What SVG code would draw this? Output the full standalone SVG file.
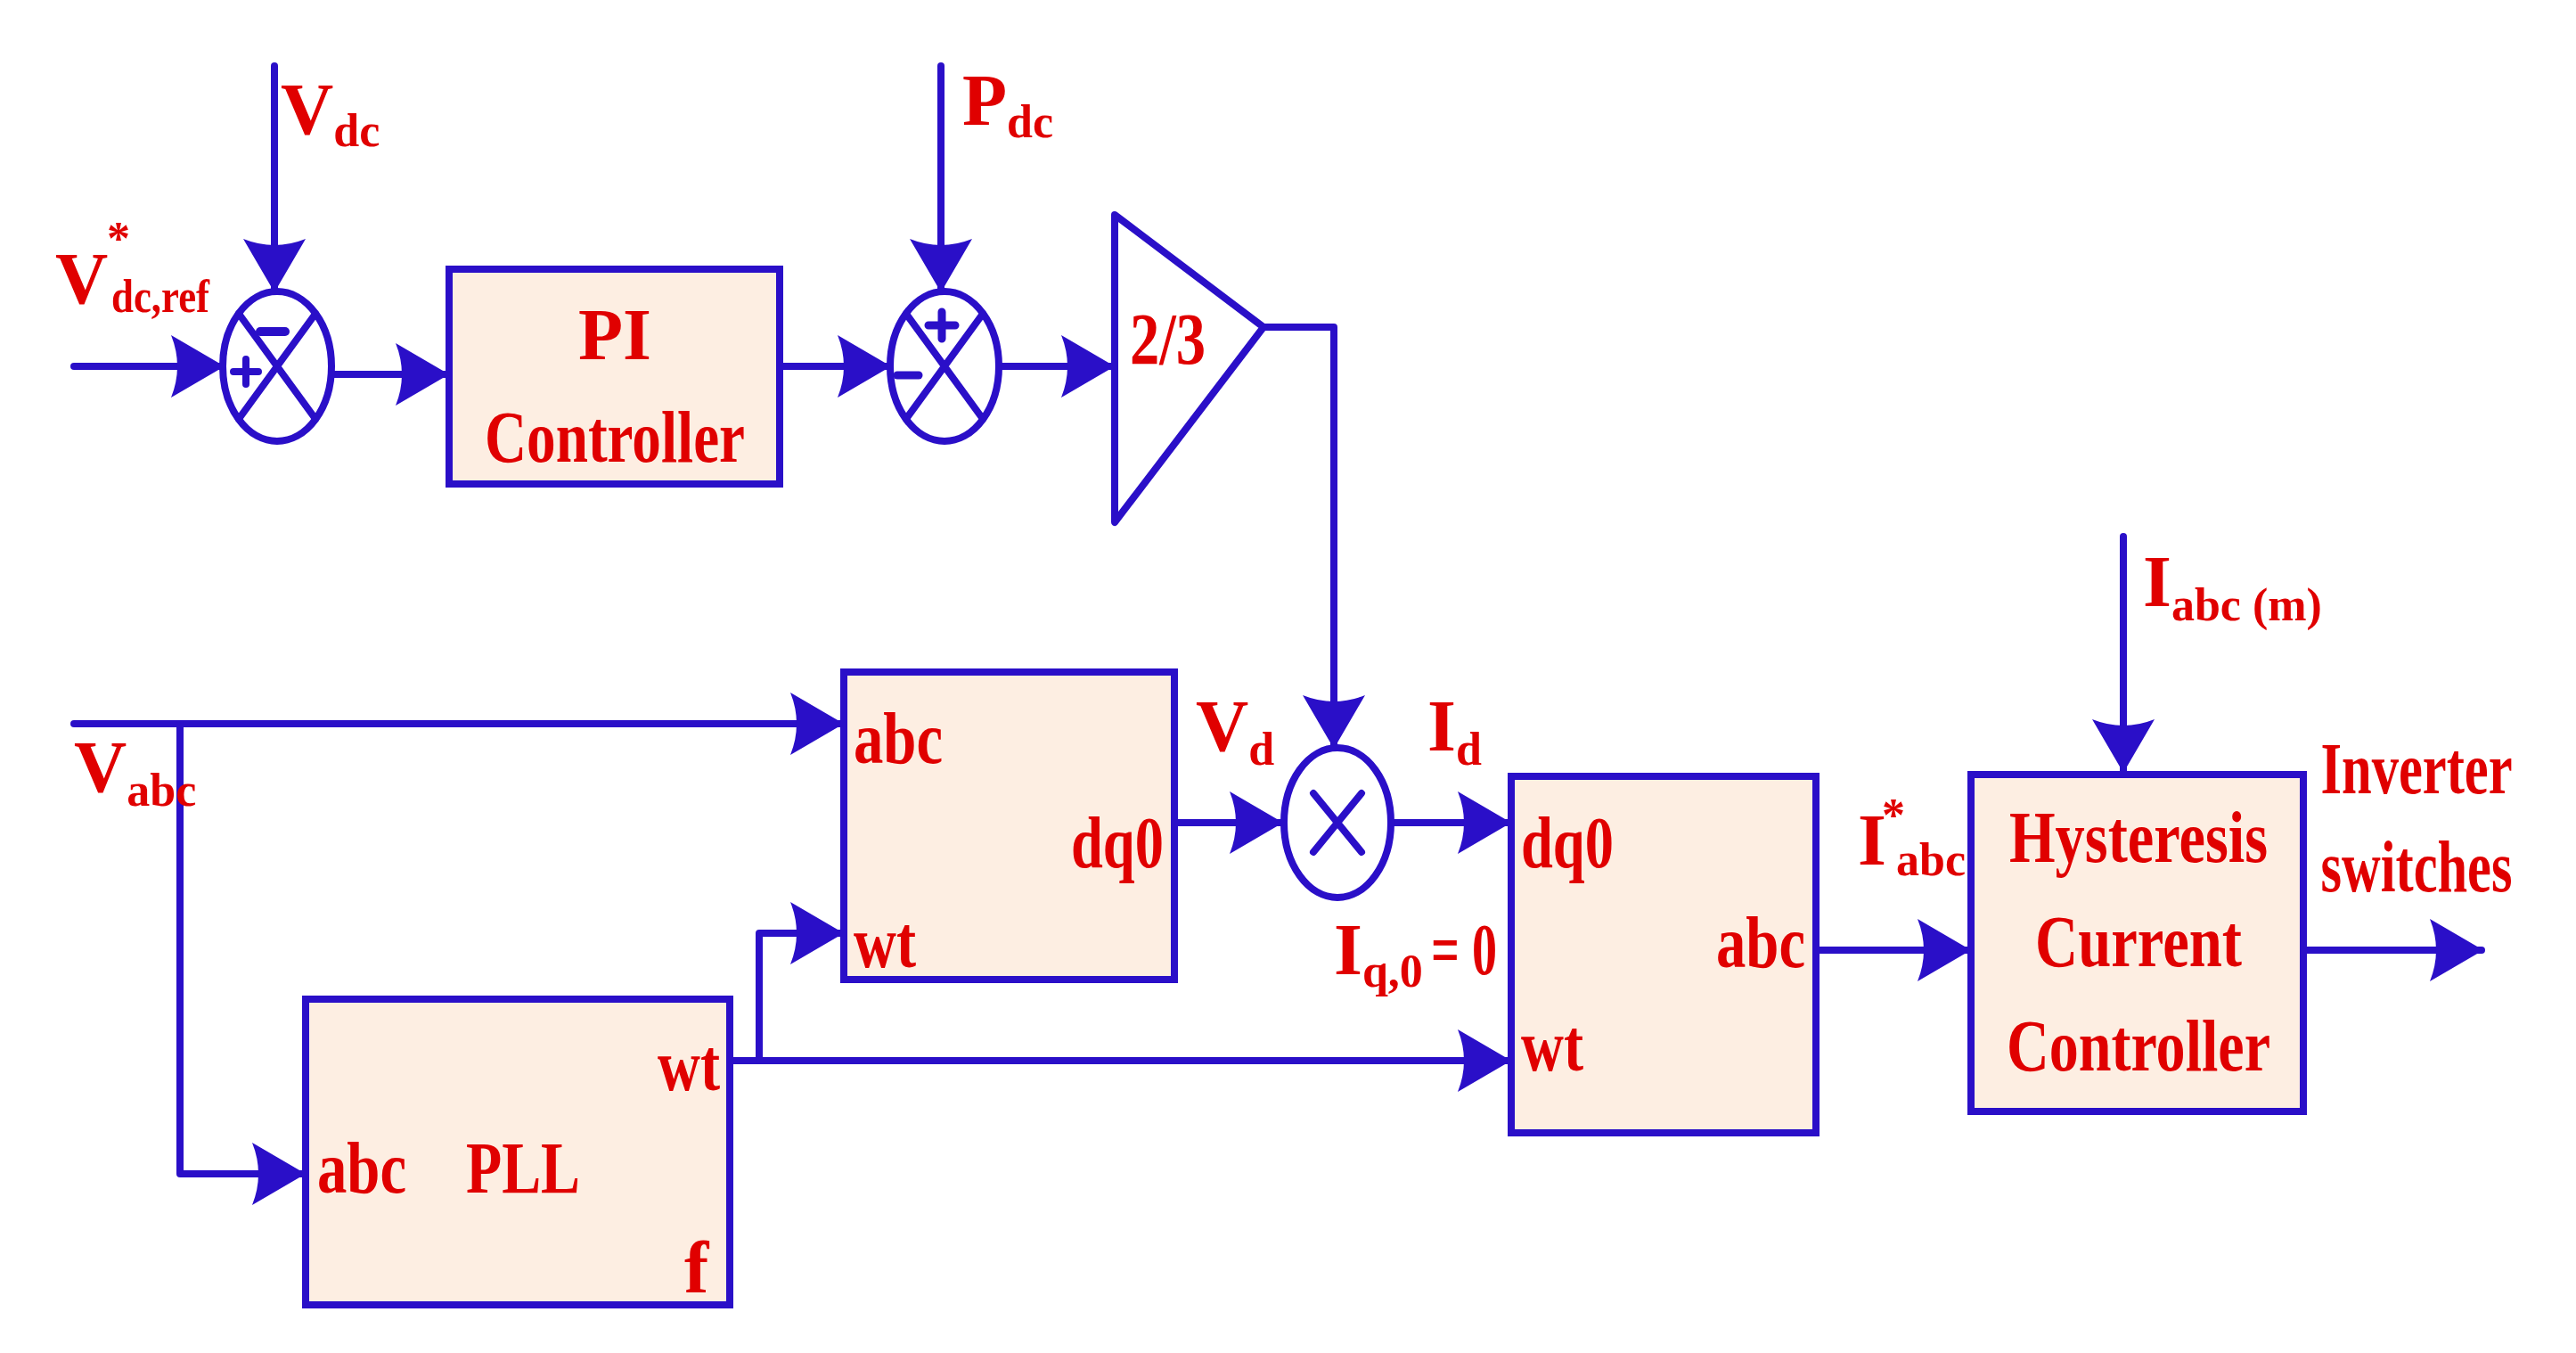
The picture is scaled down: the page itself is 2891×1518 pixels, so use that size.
<svg xmlns="http://www.w3.org/2000/svg" width="2891" height="1518" viewBox="0 0 2891 1518">
<style>
.w{stroke:#2a0fc8;stroke-width:8;fill:none;stroke-linecap:round;stroke-linejoin:round}
.b{stroke:#2a0fc8;stroke-width:8;fill:#fdeee2}
.t{font-family:"Liberation Serif",serif;font-weight:bold;fill:#e00000;font-size:82px}
.s{font-size:52px}
</style>
<defs>
<marker id="a" viewBox="0 0 60 70" refX="58" refY="35" markerWidth="60" markerHeight="70" markerUnits="userSpaceOnUse" orient="auto">
<path d="M0,0 L60,35 L0,70 Q14,35 0,0 z" fill="#2a0fc8"/>
</marker>
</defs>
<rect width="2891" height="1518" fill="#fff"/>
<g id="connectors" class="w">
<path d="M308,74 V326" marker-end="url(#a)"/>
<path d="M83,411 H250" marker-end="url(#a)"/>
<path d="M372,420 H502" marker-end="url(#a)"/>
<path d="M1056,74 V326" marker-end="url(#a)"/>
<path d="M875,411 H998" marker-end="url(#a)"/>
<path d="M1121,411 H1249" marker-end="url(#a)"/>
<path d="M1418,367 H1497 V838" marker-end="url(#a)"/>
<path d="M83,812 H945" marker-end="url(#a)"/>
<path d="M202,812 V1317 H341" marker-end="url(#a)"/>
<path d="M819,1190 H852 V1047 H945" marker-end="url(#a)"/>
<path d="M852,1190 H1694" marker-end="url(#a)"/>
<path d="M1318,923 H1438" marker-end="url(#a)"/>
<path d="M1562,923 H1694" marker-end="url(#a)"/>
<path d="M2038,1066 H2210" marker-end="url(#a)"/>
<path d="M2383,602 V865" marker-end="url(#a)"/>
<path d="M2585,1066 H2785" marker-end="url(#a)"/>
</g>
<g id="sum1" class="w">
<ellipse cx="311" cy="411" rx="61" ry="84"/>
<path d="M268,352 L354,470 M354,352 L268,470"/>
<path d="M292,372 H320" stroke-width="10"/>
<path d="M262,417 H290 M276,403 V431" stroke-width="8"/>
</g>
<g id="sum2" class="w">
<ellipse cx="1060" cy="411" rx="61" ry="84"/>
<path d="M1017,352 L1103,470 M1103,352 L1017,470"/>
<path d="M1042,365 H1072 M1057,350 V380" stroke-width="9"/>
<path d="M1007,421 H1031" stroke-width="9"/>
</g>
<g id="sum3" class="w">
<ellipse cx="1501" cy="923" rx="60" ry="84"/>
<path d="M1474,890 L1528,956 M1528,890 L1474,956"/>
</g>
<g id="pi">
<rect class="b" x="504" y="302" width="371" height="241"/>
<text class="t" x="690" y="403" text-anchor="middle">PI</text>
<text class="t" x="690" y="518" text-anchor="middle" textLength="292" lengthAdjust="spacingAndGlyphs">Controller</text>
</g>
<g id="gain">
<polygon class="w" points="1251,241 1418,367 1251,586"/>
<text class="t" x="1268" y="408" textLength="85" lengthAdjust="spacingAndGlyphs">2/3</text>
</g>
<g id="abcdq0">
<rect class="b" x="947" y="754" width="371" height="345"/>
<text class="t" x="958" y="856" textLength="100" lengthAdjust="spacingAndGlyphs">abc</text>
<text class="t" x="1306" y="973" text-anchor="end" textLength="104" lengthAdjust="spacingAndGlyphs">dq0</text>
<text class="t" x="958" y="1085" textLength="70" lengthAdjust="spacingAndGlyphs">wt</text>
</g>
<g id="pll">
<rect class="b" x="343" y="1121" width="476" height="343"/>
<text class="t" x="808" y="1223" text-anchor="end" textLength="70" lengthAdjust="spacingAndGlyphs">wt</text>
<text class="t" x="356" y="1338" textLength="100" lengthAdjust="spacingAndGlyphs">abc</text>
<text class="t" x="523" y="1338" textLength="128" lengthAdjust="spacingAndGlyphs">PLL</text>
<text class="t" x="768" y="1450">f</text>
</g>
<g id="dq0abc">
<rect class="b" x="1696" y="871" width="342" height="400"/>
<text class="t" x="1707" y="973" textLength="104" lengthAdjust="spacingAndGlyphs">dq0</text>
<text class="t" x="2026" y="1085" text-anchor="end" textLength="100" lengthAdjust="spacingAndGlyphs">abc</text>
<text class="t" x="1707" y="1201" textLength="70" lengthAdjust="spacingAndGlyphs">wt</text>
</g>
<g id="hcc">
<rect class="b" x="2212" y="869" width="373" height="378"/>
<text class="t" x="2400" y="967" text-anchor="middle" textLength="290" lengthAdjust="spacingAndGlyphs">Hysteresis</text>
<text class="t" x="2400" y="1084" text-anchor="middle" textLength="232" lengthAdjust="spacingAndGlyphs">Current</text>
<text class="t" x="2400" y="1201" text-anchor="middle" textLength="296" lengthAdjust="spacingAndGlyphs">Controller</text>
</g>
<g id="labels" class="t">
<text x="315" y="150">V<tspan class="s" dy="14">dc</tspan></text>
<text x="62" y="340">V</text><text x="120" y="285" class="s">*</text><text x="125" y="350" class="s" textLength="110" lengthAdjust="spacingAndGlyphs">dc,ref</text>
<text x="1080" y="140">P<tspan class="s" dy="14">dc</tspan></text>
<text x="1342" y="842">V<tspan class="s" dy="16">d</tspan></text>
<text x="83" y="888">V<tspan class="s" dy="16">abc</tspan></text>
<text x="1602" y="842">I<tspan class="s" dy="16">d</tspan></text>
<text x="1497" y="1093">I<tspan class="s" dy="14">q,0</tspan></text>
<text x="1606" y="1093" textLength="74" lengthAdjust="spacingAndGlyphs">= 0</text>
<text x="2085" y="970">I</text><text x="2112" y="932" class="s">*</text><text x="2128" y="982" class="s">abc</text>
<text x="2405" y="680">I<tspan class="s" dy="16">abc (m)</tspan></text>
<text x="2712" y="890" text-anchor="middle" textLength="215" lengthAdjust="spacingAndGlyphs">Inverter</text>
<text x="2712" y="1000" text-anchor="middle" textLength="215" lengthAdjust="spacingAndGlyphs">switches</text>
</g>
</svg>
